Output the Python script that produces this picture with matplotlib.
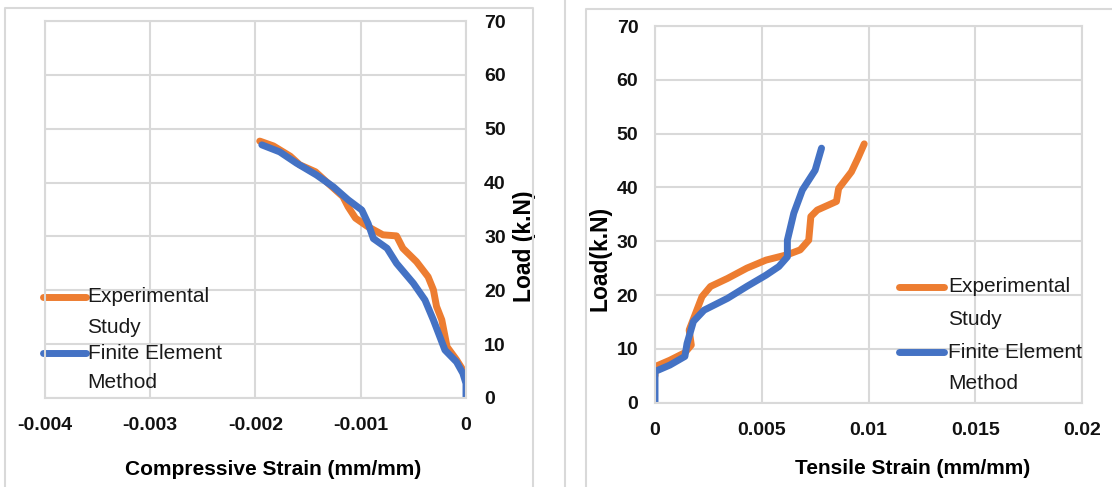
import matplotlib
matplotlib.use("Agg")
from matplotlib import pyplot as plt
from matplotlib.lines import Line2D

# compressive strain (left chart)
comp_exp_strain = [-0.00196, -0.00183, -0.00167, -0.00158, -0.00143, -0.00129, -0.00117, -0.00112,
                   -0.00105, -0.00094, -0.00079, -0.00066, -0.00060, -0.00047, -0.00036, -0.00031,
                   -0.00028, -0.00023, -0.00018, -0.00009, -0.00001, 0.0]
comp_exp_load = [47.7, 46.8, 44.9, 43.3, 42.0, 39.5, 37.4, 35.5,
                 33.4, 31.9, 30.3, 30.1, 27.8, 25.3, 22.5, 20.1,
                 17.0, 14.5, 9.5, 7.1, 4.6, 4.0]
comp_fem_strain = [-0.00194, -0.00177, -0.00161, -0.00142, -0.00126, -0.00112, -0.00099, -0.00093,
                   -0.00088, -0.00075, -0.00066, -0.00050, -0.00039, -0.00031, -0.00020, -0.00009,
                   -0.00003, 0.0, 0.0]
comp_fem_load = [47.0, 45.7, 43.6, 41.4, 39.2, 36.8, 34.9, 32.4,
                 29.6, 27.8, 25.0, 21.3, 18.2, 14.5, 8.9, 6.7,
                 4.6, 2.7, 0.0]

# tensile strain (right chart)
tens_exp_strain = [0.0, 0.0, 0.0007, 0.0014, 0.0017, 0.0016, 0.0019, 0.0022, 0.0026, 0.0034,
                   0.0043, 0.0052, 0.0062, 0.0068, 0.0072, 0.0073, 0.0076, 0.0085, 0.0086,
                   0.0092, 0.0095, 0.0098]
tens_exp_load = [5.0, 6.7, 7.9, 9.3, 10.7, 13.5, 16.6, 19.7, 21.6, 23.1,
                 25.0, 26.5, 27.5, 28.4, 30.2, 34.6, 35.8, 37.4, 39.8,
                 42.9, 45.4, 48.1]
tens_fem_strain = [0.0, 0.0, 0.0007, 0.0014, 0.0015, 0.0018, 0.0023, 0.0034, 0.0043, 0.0052,
                   0.0058, 0.0062, 0.0062, 0.0065, 0.0069, 0.0075, 0.0078]
tens_fem_load = [0.0, 5.8, 7.0, 8.6, 11.0, 15.1, 17.2, 19.4, 21.6, 23.7,
                 25.3, 27.1, 30.2, 35.2, 39.5, 43.2, 47.3]

load_ticks = [0, 10, 20, 30, 40, 50, 60, 70]
comp_ticks = [-0.004, -0.003, -0.002, -0.001, 0]
comp_tick_labels = ["-0.004", "-0.003", "-0.002", "-0.001", "0"]
tens_ticks = [0, 0.005, 0.01, 0.015, 0.02]
tens_tick_labels = ["0", "0.005", "0.01", "0.015", "0.02"]
series_names = ["Experimental", "Study", "Finite Element", "Method"]

orange = "#ED7D31"
blue = "#4472C4"
grid_c = "#D9D9D9"
fam = ["Liberation Sans", "DejaVu Sans"]
line_kw = dict(lw=5, solid_capstyle="round", solid_joinstyle="round")

fig = plt.figure(figsize=(11.12, 4.87), dpi=100)

# chart area frames
fig.add_artist(Line2D([5/1112, 5/1112, 533/1112, 533/1112], [0, 1-8/487, 1-8/487, 0],
                      color=grid_c, lw=1.5))
fig.add_artist(Line2D([565/1112, 565/1112], [0, 1], color=grid_c, lw=1.5))
fig.add_artist(Line2D([586/1112, 586/1112, 1], [0, 1-9/487, 1-9/487], color=grid_c, lw=1.5))

ax1 = fig.add_axes([45/1112, 89/487, 421/1112, 377/487])
ax2 = fig.add_axes([655/1112, 84.3/487, 427/1112, 376.7/487])


def style(ax):
    ax.set_ylim(0, 70)
    ax.set_yticks(load_ticks)
    ax.grid(True, color=grid_c, lw=1.5)
    ax.set_axisbelow(True)
    for s in ax.spines.values():
        s.set_color(grid_c)
        s.set_linewidth(1.5)
    ax.tick_params(length=0, labelsize=14)
    for lab in ax.get_xticklabels() + ax.get_yticklabels():
        lab.set_family(fam)
        lab.set_fontweight("bold")
        lab.set_color("#111111")


def legend(ax, x0, x1, xt, ys):
    # hand-made legend so the line sits beside the first text line
    for (y, y2), c, names in zip(ys, [orange, blue], [series_names[:2], series_names[2:]]):
        ax.add_line(Line2D([x0, x1], [y, y], transform=ax.transAxes, color=c, lw=5,
                           solid_capstyle="round", clip_on=False))
        ax.text(xt, y, names[0], transform=ax.transAxes, va="center", ha="left",
                fontsize=15, family=fam, color="#1a1a1a")
        ax.text(xt, y2, names[1], transform=ax.transAxes, va="center", ha="left",
                fontsize=15, family=fam, color="#1a1a1a")


# left chart
ax1.plot(comp_exp_strain, comp_exp_load, color=orange, **line_kw)
ax1.plot(comp_fem_strain, comp_fem_load, color=blue, **line_kw)
ax1.set_xlim(-0.004, 0)
ax1.set_xticks(comp_ticks)
ax1.set_xticklabels(comp_tick_labels)
ax1.yaxis.tick_right()
style(ax1)
ax1.tick_params(axis="x", pad=14)
ax1.tick_params(axis="y", pad=13)
ax1.set_xlabel("Compressive Strain (mm/mm)", fontsize=15, fontweight="bold", family=fam)
ax1.xaxis.set_label_coords(0.542, -0.165)
ax1.set_ylabel("Load (k.N)", fontsize=16.5, fontweight="bold", family=fam)
ax1.yaxis.set_label_position("right")
ax1.yaxis.set_label_coords(1.112, 0.403)
legend(ax1, -0.005, 0.097, 0.101, [(0.268, 0.186), (0.119, 0.040)])

# right chart
ax2.plot(tens_exp_strain, tens_exp_load, color=orange, **line_kw)
ax2.plot(tens_fem_strain, tens_fem_load, color=blue, **line_kw)
ax2.set_xlim(0, 0.02)
ax2.set_xticks(tens_ticks)
ax2.set_xticklabels(tens_tick_labels)
style(ax2)
ax2.tick_params(axis="x", pad=14)
ax2.tick_params(axis="y", pad=12)
ax2.set_xlabel("Tensile Strain (mm/mm)", fontsize=15, fontweight="bold", family=fam)
ax2.xaxis.set_label_coords(0.604, -0.149)
ax2.set_ylabel("Load(k.N)", fontsize=16.5, fontweight="bold", family=fam)
ax2.yaxis.set_label_coords(-0.103, 0.384)
legend(ax2, 0.571, 0.677, 0.686, [(0.308, 0.220), (0.134, 0.052)])

fig.savefig("out.png", dpi=100)
